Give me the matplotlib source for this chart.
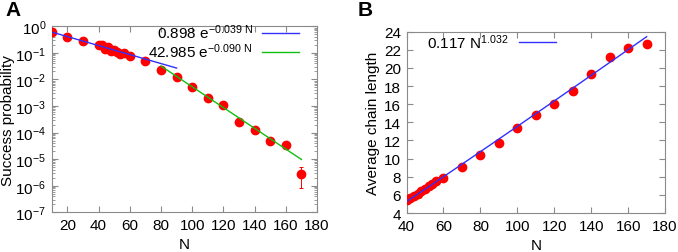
# success probability and average chain length vs N (two panels)

import numpy as np
import matplotlib
matplotlib.use("Agg")
import matplotlib.pyplot as plt

plt.rcParams['font.family'] = ['Liberation Sans', 'DejaVu Sans']
plt.rcParams['mathtext.fontset'] = 'custom'
plt.rcParams['mathtext.rm'] = 'Liberation Sans'
plt.rcParams['mathtext.default'] = 'regular'
plt.rcParams['axes.unicode_minus'] = False

# panel A data
n_a = [10, 20, 30, 40, 42, 44, 46, 48, 50, 52, 54, 56, 60, 70, 80, 90,
       100, 110, 120, 130, 140, 150, 160, 170]
p_a = [0.59, 0.39, 0.29, 0.20, 0.19, 0.14, 0.16, 0.115, 0.13, 0.11, 0.091,
       0.10, 0.079, 0.048, 0.023, 0.012, 0.0051, 0.0020, 0.0011, 2.5e-4,
       1.3e-4, 4.9e-5, 3.4e-5, 2.8e-6]
p_lo = [0.59, 0.39, 0.29, 0.20, 0.19, 0.14, 0.16, 0.115, 0.13, 0.11, 0.091,
        0.10, 0.079, 0.048, 0.023, 0.012, 0.0051, 0.0020, 0.0011, 2.5e-4,
        8.7e-5, 4.9e-5, 3.4e-5, 8.3e-7]
p_hi = [0.59, 0.39, 0.29, 0.20, 0.19, 0.14, 0.16, 0.115, 0.13, 0.11, 0.091,
        0.10, 0.079, 0.048, 0.023, 0.012, 0.0051, 0.0020, 0.0011, 2.5e-4,
        1.55e-4, 4.9e-5, 3.4e-5, 5.1e-6]

# exponential fits: a * exp(b * N) over [n0, n1]
fit1 = (0.898, -0.039, 10, 90)
fit2 = (42.985, -0.090, 80, 170)

# panel B data
n_b = [40, 42, 44, 46, 48, 50, 52, 54, 56, 60, 70, 80, 90, 100, 110, 120,
       130, 140, 150, 160, 170]
len_b = [5.4, 5.65, 5.9, 6.15, 6.45, 6.7, 6.95, 7.25, 7.5, 7.9, 9.1, 10.45,
         11.73, 13.37, 14.85, 16.05, 17.44, 19.3, 21.23, 22.2, 22.6]

# power fit: a * N^b
fit3 = (0.117, 1.032, 40, 170)

red = '#ff0000'
frame = '#8a8a8a'
fs = 11


def style(ax):
    for s in ax.spines.values():
        s.set_color(frame)
        s.set_linewidth(0.8)
    ax.tick_params(which='both', direction='in', top=True, right=True,
                   color=frame, labelsize=fs, labelcolor='black')
    ax.tick_params(which='major', length=4, pad=4)
    ax.tick_params(which='minor', length=2)


fig = plt.figure(figsize=(6.78, 2.53), dpi=100)

# --- panel A
ax = fig.add_axes([0.0763, 0.157, 0.3913, 0.735])
p_a = np.array(p_a)
yerr = [p_a - np.array(p_lo), np.array(p_hi) - p_a]
ax.errorbar(n_a, p_a, yerr=yerr, fmt='o', color=red, ms=6, elinewidth=0.7,
            capsize=1.5, capthick=0.7, zorder=3)
for (a, b, n0, n1), c, lab in [(fit1, '#3030ff', r'0.898 e$^{-0.039\ N}$'),
                               (fit2, '#10c010', r'42.985 e$^{-0.090\ N}$')]:
    xx = np.linspace(n0, n1, 50)
    ax.plot(xx, a * np.exp(b * xx), color=c, lw=1.0, label=lab, zorder=4)
ax.set_yscale('log')
ax.set_xlim(10, 180)
ax.set_ylim(1e-7, 1)
ax.set_xticks(range(20, 181, 20))
ax.set_yticks([10.0 ** k for k in range(-7, 1)])
ax.yaxis.set_minor_locator(matplotlib.ticker.LogLocator(base=10, subs=np.arange(2, 10) * 1.0, numticks=20))
ax.yaxis.set_minor_formatter(matplotlib.ticker.NullFormatter())
style(ax)
ax.set_xlabel('N', fontsize=fs, labelpad=4)
ax.set_ylabel('Success probability', fontsize=fs, labelpad=0)
ax.legend(loc='upper right', frameon=False, markerfirst=False, fontsize=fs,
          handlelength=2.4, handletextpad=0.6, labelspacing=0.0,
          borderaxespad=0.1, bbox_to_anchor=(0.96, 1.06))
fig.text(0.008, 0.995, 'A', fontsize=15, fontweight='bold', va='top')

# --- panel B
bx = fig.add_axes([0.5996, 0.154, 0.3814, 0.717])
bx.plot(n_b, len_b, 'o', color=red, ms=6, zorder=3)
a, b, n0, n1 = fit3
xx = np.linspace(n0, n1, 50)
bx.plot(xx, a * xx ** b, color='#3030ff', lw=1.0, zorder=4,
        label=r'0.117 N$^{1.032}$')
bx.set_xlim(40, 180)
bx.set_ylim(4, 24)
bx.set_xticks(range(40, 181, 20))
bx.set_yticks(range(4, 25, 2))
style(bx)
bx.set_xlabel('N', fontsize=fs, labelpad=4)
bx.set_ylabel('Average chain length', fontsize=fs, labelpad=3)
bx.legend(loc='upper left', frameon=False, markerfirst=False, fontsize=fs,
          handlelength=2.4, handletextpad=0.7, borderaxespad=0.1,
          bbox_to_anchor=(0.05, 1.04))
fig.text(0.527, 0.995, 'B', fontsize=15, fontweight='bold', va='top')

fig.savefig('out.png', dpi=100)
